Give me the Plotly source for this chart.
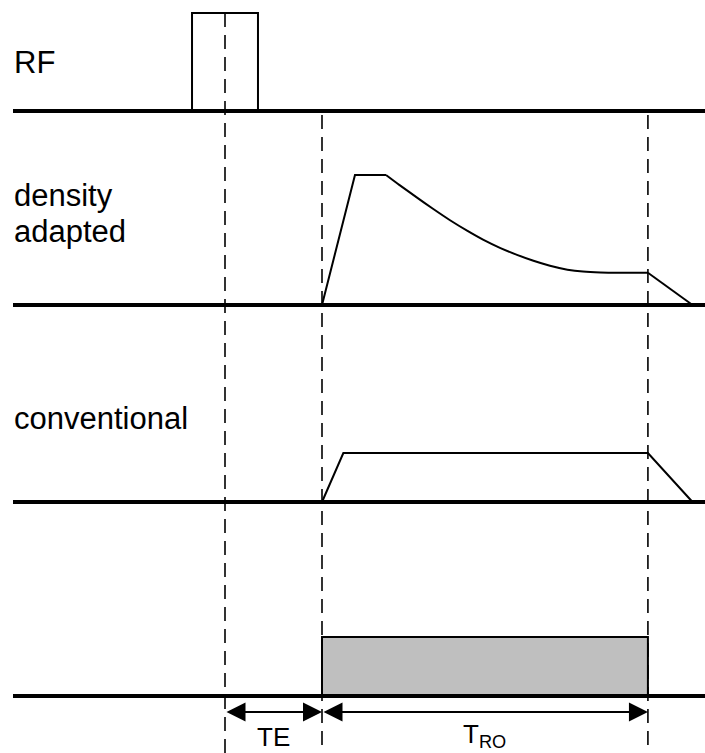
import plotly.graph_objects as go

W, H = 705, 753

# ---- timing (µs, excitation centre at t = 0) ----
TE = 100
T_RO = 336
T_END = TE + T_RO

# RF hard pulse
rf_t = [-34, -34, 34, 34]
rf_amp = [0, 1, 1, 0]

# density adapted readout gradient (normalised amplitude)
da_ramp_t = [100, 134, 166]
da_ramp_amp = [0, 1.0, 1.0]
da_decay_t = [166, 180, 198, 214, 232, 250, 266, 284, 301, 318, 335, 353, 369, 387, 410, 436]
da_decay_amp = [1.0, 0.922, 0.826, 0.742, 0.652, 0.570, 0.503, 0.438, 0.386, 0.340,
                0.302, 0.272, 0.257, 0.250, 0.248, 0.248]
da_tail_t = [436, 482]
da_tail_amp = [0.248, 0]

# conventional readout gradient
conv_t = [100, 122, 436, 482]
conv_amp = [0, 0.377, 0.377, 0]

# acquisition window
adc_t = [100, 100, 436, 436, 100]
adc_amp = [0, 1, 1, 0, 0]

channel_labels = ["RF", "density", "adapted", "conventional"]
interval_labels = ["TE", "T<sub>RO</sub>"]

# ---- layout of the rows (vertical axis in screen units, top = 0) ----
row_base = [111, 305, 502, 696]
row_scale = [98, 130, 130, 59]
label_y = [62, 195, 231, 418]

PX_PER_US = 0.97
X0 = 225  # screen position of t = 0
x_range = [-X0 / PX_PER_US, (W - X0) / PX_PER_US]


def to_y(amps, row):
    return [row_base[row] - a * row_scale[row] for a in amps]


LW = 2
fig = go.Figure()

fig.add_trace(go.Scatter(x=rf_t, y=to_y(rf_amp, 0), mode="lines",
                         line=dict(color="black", width=LW)))
fig.add_trace(go.Scatter(x=da_ramp_t, y=to_y(da_ramp_amp, 1), mode="lines",
                         line=dict(color="black", width=LW)))
fig.add_trace(go.Scatter(x=da_decay_t, y=to_y(da_decay_amp, 1), mode="lines",
                         line=dict(color="black", width=LW, shape="spline", smoothing=0.6)))
fig.add_trace(go.Scatter(x=da_tail_t, y=to_y(da_tail_amp, 1), mode="lines",
                         line=dict(color="black", width=LW)))
fig.add_trace(go.Scatter(x=conv_t, y=to_y(conv_amp, 2), mode="lines",
                         line=dict(color="black", width=LW)))
fig.add_trace(go.Scatter(x=adc_t, y=to_y(adc_amp, 3), mode="lines", fill="toself",
                         fillcolor="#bfbfbf", line=dict(color="black", width=LW)))

shapes = []
# channel baselines
for yb in row_base:
    shapes.append(dict(type="line", xref="paper", yref="y", x0=13 / W, x1=1,
                       y0=yb, y1=yb, line=dict(color="black", width=4), layer="above"))
# timing markers
dash = "14px,8px"
shapes.append(dict(type="line", xref="x", yref="y", x0=0, x1=0, y0=13, y1=H,
                   line=dict(color="black", width=1.6, dash=dash), layer="below"))
for tm in (TE, T_END):
    shapes.append(dict(type="line", xref="x", yref="y", x0=tm, x1=tm, y0=115, y1=H,
                       line=dict(color="black", width=1.6, dash=dash), layer="below"))

annotations = []
label_font = dict(family="Liberation Sans, Arial, sans-serif", size=31, color="black")
font = dict(family="Liberation Sans, Arial, sans-serif", size=26, color="black")
for lab, ly in zip(channel_labels, label_y):
    annotations.append(dict(text=lab, xref="paper", yref="y", x=12 / W, y=ly,
                            xanchor="left", yanchor="middle", align="left",
                            showarrow=False, font=label_font))

# interval arrows
ARROW_Y = 712
for (t0, t1), lab in zip(((0, TE), (TE, T_END)), interval_labels):
    annotations.append(dict(x=t1, y=ARROW_Y, ax=t0, ay=ARROW_Y, xref="x", yref="y",
                            axref="x", ayref="y", text="", showarrow=True,
                            arrowhead=2, arrowside="end+start", arrowsize=1.9,
                            arrowwidth=2, arrowcolor="black", standoff=0, startstandoff=0))
    annotations.append(dict(x=(t0 + t1) / 2, y=H, xref="x", yref="y", text=lab,
                            showarrow=False, xanchor="center", yanchor="bottom",
                            borderpad=0, font=font))

fig.update_layout(
    width=W, height=H, margin=dict(l=0, r=0, t=0, b=0),
    paper_bgcolor="white", plot_bgcolor="white", showlegend=False,
    xaxis=dict(range=x_range, visible=False, fixedrange=True),
    yaxis=dict(range=[H, 0], visible=False, fixedrange=True),
    shapes=shapes, annotations=annotations,
)

fig.write_html("out.html")
